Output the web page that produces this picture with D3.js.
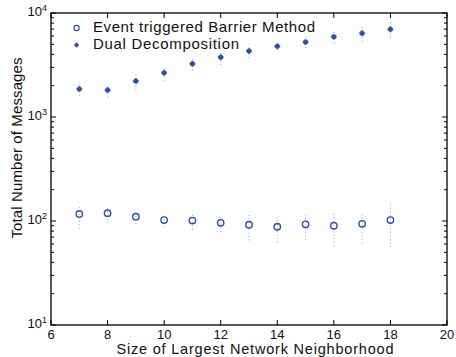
<!DOCTYPE html>
<html><head><meta charset="utf-8">
<script src="https://cdn.jsdelivr.net/npm/d3@7"></script>
<style>body{margin:0;background:#fff}svg{display:block}text{font-family:"Liberation Sans",Arial,sans-serif;fill:#111}</style>
</head><body>
<script>
const neighborhoodSize = [7,8,9,10,11,12,13,14,15,16,17,18];
const eventMean  = [117,119,110,102,101,96,92,88,93,90,94,102];
const eventLow   = [84,96,94,87,82,78,65,62,66,57,61,56];
const eventHigh  = [139,136,123,112,117,112,119,112,120,123,120,146];
const dualMean   = [1858,1820,2218,2666,3255,3750,4315,4790,5260,5915,6380,6970];
const dualLow    = [1603,1535,1820,2234,2786,3162,3664,4402,4582,5117,5297,5838];
const dualHigh   = [2109,1986,2588,2939,3586,4153,5036,5178,5838,6607,7385,8241];
const xTicks = [6,8,10,12,14,16,18,20];
const yTicks = [10,100,1000,10000];
const seriesNames = ["Event triggered Barrier Method","Dual Decomposition"];

const W=456,H=357, m={l:51,r:9,t:13,b:32};
const svg=d3.select("body").append("svg").attr("width",W).attr("height",H);
const x=d3.scaleLinear().domain([6,20]).range([m.l,W-m.r]);
const y=d3.scaleLog().domain([10,10000]).range([H-m.b,m.t]);
const blue="#2f4fb0", errc="#8f97e0";

// frame
svg.append("rect").attr("x",m.l).attr("y",m.t).attr("width",W-m.r-m.l).attr("height",H-m.b-m.t)
  .attr("fill","none").attr("stroke","#000").attr("stroke-width",1.3);

// ticks
const minor=[];
for(let d=10; d<10000; d*=10) for(let k=2;k<=9;k++) minor.push(d*k);
const tg=svg.append("g").attr("stroke","#000").attr("stroke-width",1);
yTicks.forEach(v=>{
  tg.append("line").attr("x1",m.l).attr("x2",m.l+5).attr("y1",y(v)).attr("y2",y(v));
  tg.append("line").attr("x1",W-m.r).attr("x2",W-m.r-5).attr("y1",y(v)).attr("y2",y(v));
});
minor.forEach(v=>{
  tg.append("line").attr("x1",m.l).attr("x2",m.l+3).attr("y1",y(v)).attr("y2",y(v));
  tg.append("line").attr("x1",W-m.r).attr("x2",W-m.r-3).attr("y1",y(v)).attr("y2",y(v));
});
xTicks.forEach(v=>{
  tg.append("line").attr("x1",x(v)).attr("x2",x(v)).attr("y1",H-m.b).attr("y2",H-m.b-5);
  tg.append("line").attr("x1",x(v)).attr("x2",x(v)).attr("y1",m.t).attr("y2",m.t+5);
});

// tick labels
xTicks.forEach(v=>{
  svg.append("text").attr("x",x(v)).attr("y",H-m.b+13.5).attr("text-anchor","middle")
    .attr("font-size",13).text(v);
});
yTicks.forEach(v=>{
  const t=svg.append("text").attr("x",m.l-4).attr("y",y(v)+3).attr("text-anchor","end").attr("font-size",13);
  t.append("tspan").text("10");
  t.append("tspan").attr("font-size",9).attr("dy",-5).text(Math.round(Math.log10(v)));
});

// axis titles
svg.append("text").attr("x",255).attr("y",H-3.3).attr("text-anchor","middle")
  .attr("font-size",14.5).attr("textLength",277).attr("lengthAdjust","spacing")
  .text("Size of Largest Network Neighborhood");
svg.append("text").attr("transform",`translate(22,148) rotate(-90)`).attr("text-anchor","middle")
  .attr("font-size",15).attr("textLength",181).attr("lengthAdjust","spacing")
  .text("Total Number of Messages");

// error bars
function errBars(low,high){
  svg.append("g").selectAll("line").data(neighborhoodSize).join("line")
    .attr("x1",d=>x(d)).attr("x2",d=>x(d))
    .attr("y1",(d,i)=>y(low[i])).attr("y2",(d,i)=>y(high[i]))
    .attr("stroke",errc).attr("stroke-width",1).attr("stroke-dasharray","1,2.5");
}
errBars(eventLow,eventHigh);
errBars(dualLow,dualHigh);

// markers
function dualMark(g,s){
  g.append("circle").attr("r",2.5*s).attr("fill",blue);
  g.append("path").attr("d",d3.symbol().type(d3.symbolCross).size(20*s*s)()).attr("fill",blue).attr("opacity",0.6);
}
svg.append("g").selectAll("circle").data(neighborhoodSize).join("circle")
  .attr("cx",d=>x(d)).attr("cy",(d,i)=>y(eventMean[i])).attr("r",3.2)
  .attr("fill","none").attr("stroke",blue).attr("stroke-width",1.4);
svg.append("g").selectAll("g").data(neighborhoodSize).join("g")
  .attr("transform",(d,i)=>`translate(${x(d)},${y(dualMean[i])})`).each(function(){dualMark(d3.select(this),1);});

// legend
const lg=svg.append("g");
lg.append("circle").attr("cx",76.5).attr("cy",28).attr("r",2.6).attr("fill","none").attr("stroke",blue).attr("stroke-width",1.2);
dualMark(lg.append("g").attr("transform","translate(76.5,45)"),0.8);
lg.append("text").attr("x",93).attr("y",31.5).attr("font-size",15).attr("textLength",222).attr("lengthAdjust","spacing").text(seriesNames[0]);
lg.append("text").attr("x",93).attr("y",48.5).attr("font-size",15).attr("textLength",146).attr("lengthAdjust","spacing").text(seriesNames[1]);
</script>
</body></html>
